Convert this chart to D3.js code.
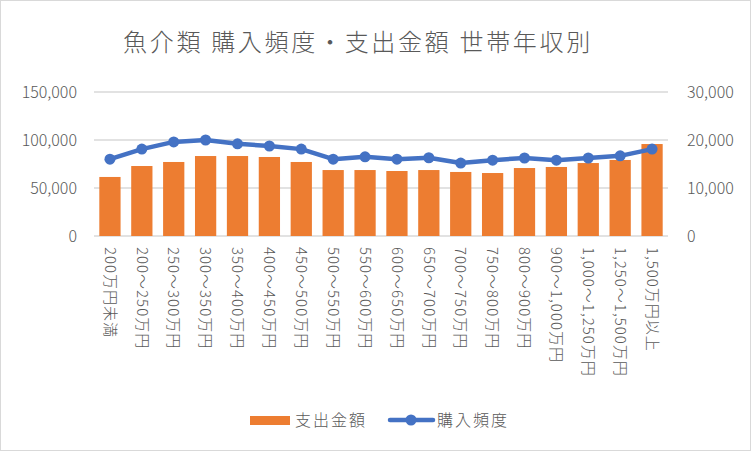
<!DOCTYPE html>
<html><head><meta charset="utf-8">
<script src="https://cdn.jsdelivr.net/npm/d3@7"></script>
<style>
html,body{margin:0;padding:0;background:#fff;}
text{font-family:"Noto Sans CJK JP","Noto Sans",sans-serif;fill:#595959;font-weight:300;}
</style></head>
<body>
<svg id="chart" width="752" height="452"></svg>
<script>
const categories = ["200万円未満","200～250万円","250～300万円","300～350万円","350～400万円","400～450万円","450～500万円","500～550万円","550～600万円","600～650万円","650～700万円","700～750万円","750～800万円","800～900万円","900～1,000万円","1,000～1,250万円","1,250～1,500万円","1,500万円以上"];
const spending = [61500,72900,77100,83300,83300,82300,77100,68700,68700,67700,68700,66700,65600,70800,71900,76000,79200,95800];
const frequency = [16000,18100,19600,20000,19200,18750,18100,16000,16500,16000,16300,15200,15800,16250,15800,16250,16700,18100];
const leftTicks = [0,50000,100000,150000];
const rightTicks = [0,10000,20000,30000];
const title = "魚介類 購入頻度・支出金額 世帯年収別";
const legendLabels = ["支出金額","購入頻度"];

const svg = d3.select("#chart");
const L = 94, R = 668, T = 92, B = 236;
const orange = "#ED7D31", blue = "#4472C4", grid = "#D9D9D9";

svg.append("rect").attr("x",0.5).attr("y",0.5).attr("width",750).attr("height",450)
  .attr("fill","#fff").attr("stroke","#D9D9D9").attr("stroke-width",1);

const x = d3.scaleBand().domain(categories).range([L,R]).paddingInner(1/3).paddingOuter(1/6);
const yL = d3.scaleLinear().domain([0,150000]).range([B,T]);
const yR = d3.scaleLinear().domain([0,30000]).range([B,T]);
const fmt = d3.format(",");

// gridlines
svg.append("g").selectAll("line").data(leftTicks).join("line")
  .attr("x1",L).attr("x2",R).attr("y1",d=>yL(d)).attr("y2",d=>yL(d))
  .attr("stroke",grid).attr("stroke-width",1.5);

// left axis labels
const axL = svg.append("g").attr("transform",`translate(${L-17},0)`)
  .call(d3.axisLeft(yL).tickValues(leftTicks).tickFormat(fmt).tickSize(0).tickPadding(0));
axL.select(".domain").remove();
axL.selectAll("text").style("font-size","16px").attr("fill","#595959");

const axR = svg.append("g").attr("transform",`translate(${R+19},0)`)
  .call(d3.axisRight(yR).tickValues(rightTicks).tickFormat(fmt).tickSize(0).tickPadding(0));
axR.select(".domain").remove();
axR.selectAll("text").style("font-size","16px").attr("fill","#595959");

// bars
svg.append("g").selectAll("rect").data(spending).join("rect")
  .attr("x",(d,i)=>x(categories[i])).attr("width",x.bandwidth())
  .attr("y",d=>yL(d)).attr("height",d=>B-yL(d)).attr("fill",orange);

// line
const cx = i => x(categories[i]) + x.bandwidth()/2;
svg.append("path").datum(frequency)
  .attr("d",d3.line().x((d,i)=>cx(i)).y(d=>yR(d)))
  .attr("fill","none").attr("stroke",blue).attr("stroke-width",4.5).attr("stroke-linejoin","round");
svg.append("g").selectAll("circle").data(frequency).join("circle")
  .attr("cx",(d,i)=>cx(i)).attr("cy",d=>yR(d)).attr("r",5.5).attr("fill",blue);

// x labels
svg.append("g").selectAll("text").data(categories).join("text")
  .attr("transform",(d)=>`translate(${x(d)+x.bandwidth()/2},247) rotate(90)`)
  .attr("dy","0.35em").attr("text-anchor","start")
  .style("font-size","15px").style("letter-spacing","1px").text(d=>d);

// title
svg.append("text").attr("x",358).attr("y",51).attr("text-anchor","middle")
  .style("font-size","24px").style("letter-spacing","2.7px").text(title);

// legend
const lg = svg.append("g");
lg.append("rect").attr("x",250).attr("y",416).attr("width",40).attr("height",9).attr("fill",orange);
lg.append("text").attr("x",295).attr("y",420).attr("dy","0.35em").style("font-size","16px").style("letter-spacing","2px").text(legendLabels[0]);
lg.append("line").attr("x1",390).attr("x2",433).attr("y1",420).attr("y2",420).attr("stroke",blue).attr("stroke-width",4.5).attr("stroke-linecap","round");
lg.append("circle").attr("cx",411).attr("cy",420).attr("r",5.5).attr("fill",blue);
lg.append("text").attr("x",437).attr("y",420).attr("dy","0.35em").style("font-size","16px").style("letter-spacing","2px").text(legendLabels[1]);
</script>
</body></html>
